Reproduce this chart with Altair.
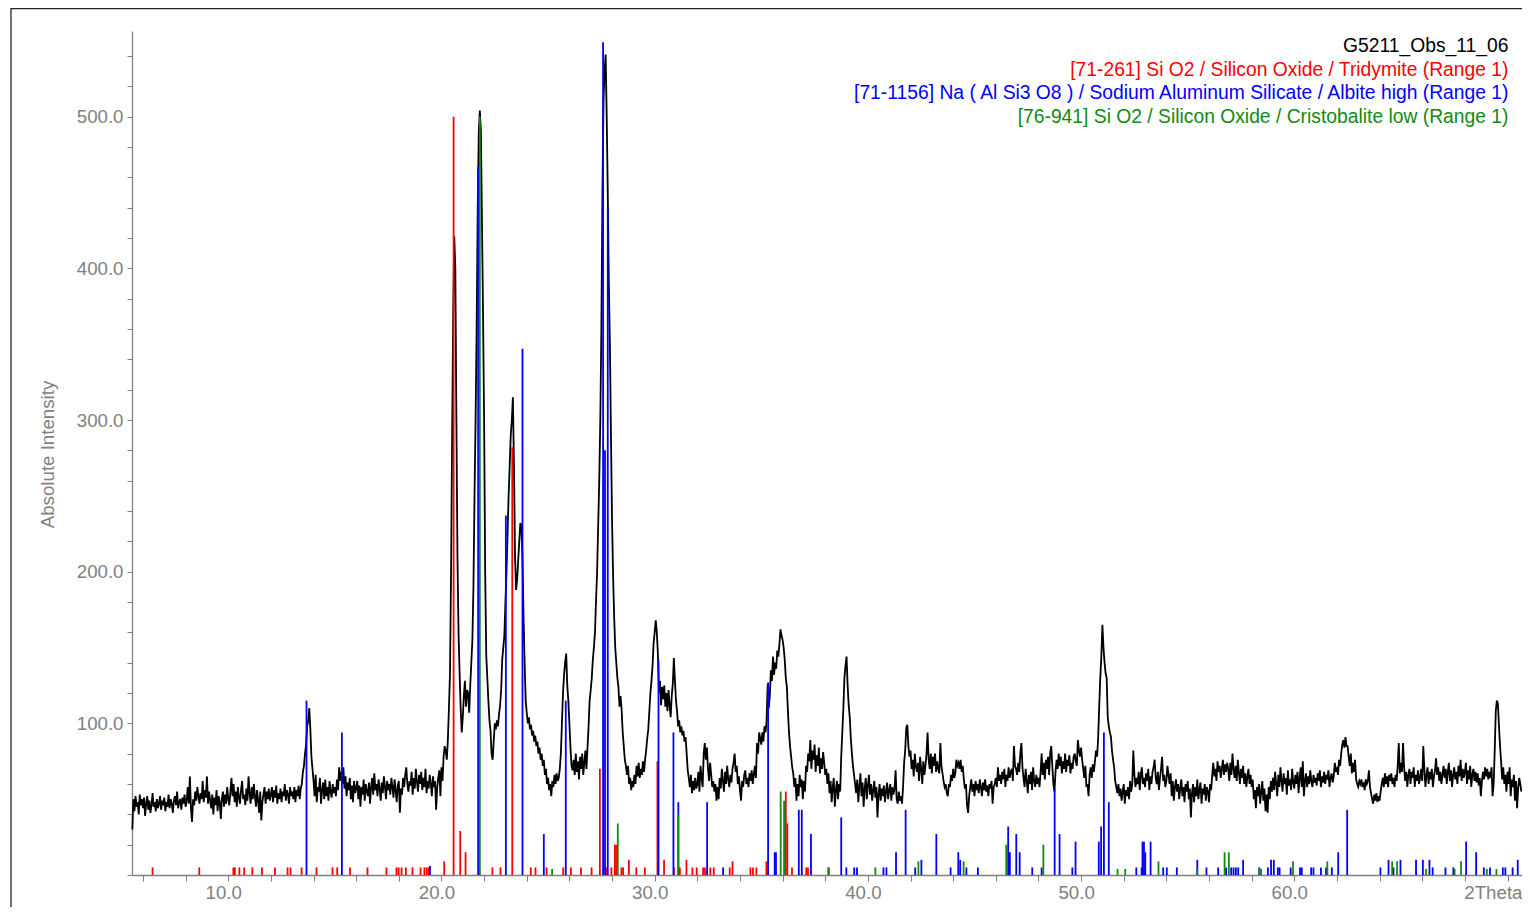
import altair as alt
import pandas as pd

# ---------------- observed pattern (counts sampled every 0.05 deg 2Theta) ----------------
STEP = 0.05
counts_05_10 = [
    30, 50, 42, 52, 45, 48, 40, 53, 46, 50,
    44, 51, 39, 47, 52, 43, 49, 41, 46, 54, 45, 48, 42, 50, 44, 47, 52, 43, 49, 46,
    51, 42, 48, 45, 53, 44, 50, 47, 41, 49, 52, 46, 55, 44, 48, 50, 43, 51, 47, 53,
    45, 49, 58, 47, 65, 44, 35, 50, 46, 55, 49, 58, 52, 47, 54, 50, 62, 48, 56, 51,
    65, 47, 55, 49, 44, 53, 40, 51, 46, 56, 42, 52, 48, 37, 50, 55, 45, 53, 47, 58,
]
counts_10_20 = [
    50, 46, 55, 64, 52, 60, 48, 55, 45, 58, 51, 47, 56, 62, 50, 53, 46, 57, 49, 65,
    54, 47, 58, 50, 60, 52, 45, 56, 49, 41, 55, 36, 48, 53, 58, 47, 55, 50, 57, 49,
    53, 58, 48, 56, 51, 59, 47, 54, 50, 57, 48, 55, 52, 60, 49, 56, 53, 47, 58, 52,
    55, 50, 58, 48, 56, 52, 59, 50, 57, 60, 68, 72, 80, 86, 98, 102, 110, 96, 78, 70,
    62, 52, 66, 48, 58, 55, 64, 47, 56, 61, 50, 63, 52, 58, 49, 62, 55, 51, 60, 54,
    58, 52, 63, 56, 71, 62, 68, 60, 71, 57, 65, 52, 61, 56, 64, 50, 59, 48, 62, 54,
    57, 62, 50, 59, 45, 58, 53, 63, 49, 60, 55, 52, 61, 47, 58, 64, 53, 67, 56, 60,
    52, 63, 57, 49, 61, 54, 65, 58, 50, 62, 56, 60, 53, 64, 58, 51, 63, 56, 48, 59,
    62, 41, 57, 53, 64, 58, 66, 71, 60, 55, 62, 59, 68, 53, 64, 57, 70, 61, 55, 66,
    60, 68, 56, 64, 58, 70, 54, 62, 57, 66, 60, 52, 65, 58, 62, 43, 58, 64, 69, 52,
]
counts_20_30 = [
    71, 62, 78, 85, 82, 76, 89, 110, 133, 200, 290, 370, 421, 400, 300, 210, 160, 133, 110, 94,
    104, 118, 128, 111, 122, 120, 107, 125, 140, 155, 190, 250, 300, 360, 440, 490, 504, 490, 430, 370,
    300, 200, 145, 130, 115, 102, 95, 80, 76, 88, 100, 96, 102, 98, 106, 112, 122, 142, 150, 158,
    180, 200, 225, 250, 270, 290, 300, 315, 270, 210, 188, 195, 208, 220, 232, 230, 208, 170, 140, 115,
    107, 100, 104, 96, 99, 92, 95, 88, 92, 85, 88, 80, 84, 76, 80, 72, 76, 66, 70, 60,
    64, 56, 60, 52, 62, 58, 66, 60, 67, 62, 64, 70, 80, 100, 120, 132, 140, 146, 125, 115,
    100, 84, 72, 69, 76, 66, 80, 68, 75, 63, 78, 70, 80, 66, 74, 82, 70, 84, 98, 115,
    122, 130, 142, 150, 160, 181, 200, 230, 260, 300, 360, 450, 510, 530, 541, 500, 450, 390, 350, 290,
    234, 197, 170, 150, 140, 130, 124, 111, 118, 109, 94, 85, 76, 72, 66, 72, 60, 64, 56, 62,
    58, 66, 60, 72, 65, 74, 64, 70, 66, 75, 68, 76, 82, 90, 96, 108, 120, 128, 138, 153,
]
counts_30_40 = [
    160, 168, 160, 146, 120, 128, 112, 124, 116, 125, 111, 120, 108, 122, 112, 104, 118, 126, 143, 128,
    115, 108, 98, 102, 94, 98, 92, 95, 88, 91, 80, 69, 64, 58, 66, 54, 62, 56, 64, 57,
    60, 68, 55, 72, 64, 58, 80, 87, 76, 84, 70, 62, 74, 66, 58, 62, 55, 60, 49, 58,
    50, 64, 57, 70, 62, 55, 68, 60, 72, 63, 58, 66, 61, 70, 74, 80, 68, 72, 60, 65,
    56, 49, 62, 58, 66, 69, 60, 64, 58, 67, 62, 69, 60, 66, 72, 64, 87, 80, 94, 90,
    86, 94, 88, 98, 94, 102, 126, 110, 118, 135, 128, 144, 132, 140, 136, 148, 144, 152, 162, 158,
    155, 150, 142, 130, 124, 108, 94, 85, 78, 71, 67, 58, 64, 49, 60, 52, 66, 58, 63, 50,
    62, 55, 72, 68, 80, 75, 89, 70, 82, 76, 86, 68, 79, 72, 84, 67, 77, 70, 81, 74,
    66, 70, 60, 67, 54, 62, 48, 58, 64, 45, 56, 62, 50, 60, 55, 78, 94, 110, 130, 138,
    144, 125, 112, 104, 90, 80, 72, 66, 60, 54, 63, 48, 58, 67, 52, 61, 45, 57, 64, 50,
]
counts_40_50 = [
    59, 66, 53, 60, 49, 56, 62, 51, 58, 38, 53, 60, 49, 57, 52, 59, 48, 55, 61, 50,
    56, 60, 49, 58, 53, 57, 69, 50, 47, 55, 49, 52, 47, 58, 74, 82, 97, 99, 85, 78,
    82, 70, 76, 65, 80, 72, 68, 74, 62, 78, 70, 60, 75, 66, 72, 80, 94, 76, 70, 80,
    67, 78, 72, 80, 68, 75, 70, 67, 87, 72, 67, 62, 58, 60, 54, 52, 60, 58, 66, 62,
    70, 64, 67, 76, 72, 74, 70, 76, 68, 72, 63, 57, 60, 46, 41, 52, 58, 63, 55, 60,
    52, 62, 56, 60, 54, 63, 58, 52, 61, 56, 63, 55, 59, 52, 60, 57, 62, 47, 58, 60,
    64, 58, 71, 62, 66, 60, 68, 63, 70, 58, 66, 62, 71, 64, 68, 70, 62, 85, 72, 70,
    66, 74, 68, 80, 87, 71, 64, 58, 70, 62, 54, 66, 60, 68, 56, 71, 62, 58, 66, 60,
    64, 58, 68, 80, 66, 74, 63, 76, 70, 78, 66, 80, 85, 72, 60, 55, 68, 76, 70, 80,
    72, 78, 67, 75, 70, 80, 68, 76, 72, 79, 67, 74, 70, 78, 80, 75, 72, 89, 82, 78,
]
counts_50_60 = [
    84, 76, 70, 64, 72, 58, 60, 52, 66, 71, 64, 73, 68, 75, 82, 78, 90, 111, 130, 144,
    165, 150, 140, 133, 130, 104, 98, 94, 91, 82, 76, 71, 62, 58, 54, 60, 52, 57, 49, 55,
    60, 47, 56, 52, 58, 50, 62, 55, 60, 82, 66, 58, 64, 60, 68, 56, 66, 71, 60, 64,
    58, 67, 62, 70, 56, 65, 60, 68, 71, 76, 64, 60, 68, 56, 64, 70, 78, 62, 66, 58,
    62, 72, 66, 60, 67, 52, 62, 49, 58, 63, 55, 60, 50, 57, 63, 52, 58, 48, 60, 55,
    62, 50, 57, 38, 54, 60, 48, 58, 52, 63, 50, 56, 61, 47, 57, 53, 60, 49, 58, 55,
    48, 60, 56, 66, 74, 65, 70, 62, 75, 68, 72, 64, 70, 76, 66, 73, 68, 74, 70, 62,
    74, 66, 80, 70, 64, 72, 62, 76, 68, 60, 70, 64, 72, 60, 67, 58, 65, 70, 60, 66,
    58, 63, 50, 56, 44, 58, 52, 60, 47, 55, 62, 49, 57, 42, 53, 41, 58, 50, 62, 55,
    64, 56, 68, 60, 52, 66, 58, 71, 62, 55, 67, 60, 64, 53, 69, 59, 63, 56, 70, 61,
]
counts_60_71 = [
    57, 66, 60, 68, 54, 64, 71, 58, 75, 52, 62, 67, 58, 65, 60, 69, 62, 58, 66, 61,
    64, 59, 67, 62, 69, 58, 65, 61, 68, 60, 66, 63, 69, 58, 64, 67, 61, 65, 74, 68,
    70, 66, 76, 72, 80, 86, 89, 84, 91, 85, 85, 78, 72, 80, 67, 74, 68, 76, 63, 60,
    58, 62, 60, 63, 58, 61, 56, 63, 60, 62, 69, 58, 54, 50, 47, 53, 49, 54, 48, 52,
    49, 55, 60, 64, 58, 67, 60, 65, 58, 66, 62, 67, 60, 64, 58, 66, 62, 72, 87, 67,
    74, 68, 87, 71, 62, 68, 58, 66, 70, 60, 68, 64, 71, 58, 66, 62, 69, 60, 64, 70,
    62, 85, 70, 58, 66, 71, 60, 68, 63, 70, 58, 65, 69, 77, 66, 71, 62, 68, 60, 66,
    72, 64, 70, 60, 68, 74, 62, 69, 58, 66, 71, 63, 68, 60, 72, 65, 76, 62, 70, 64,
    68, 74, 60, 69, 63, 72, 58, 66, 70, 62, 68, 61, 67, 59, 64, 52, 62, 68, 63, 71,
    65, 70, 63, 68, 64, 71, 52, 60, 82, 108, 115, 113, 98, 85, 75, 63, 71, 60, 66, 55,
    68, 60, 71, 52, 63, 58, 66, 49, 62, 44, 57, 64, 60, 55,
]

# ---------------- reference patterns (position 2Theta, intensity) ----------------
tridymite_sticks = [
    (6.45, 5), (8.64, 5), (10.24, 5), (10.31, 5), (10.52, 5), (10.75, 5), (11.13, 5),
    (11.58, 5), (12.19, 5), (12.78, 5), (12.92, 5), (13.44, 5), (14.14, 5), (14.89, 5),
    (15.11, 5), (15.71, 5), (16.53, 5), (17.42, 5), (17.89, 5), (17.99, 5), (18.13, 5),
    (18.33, 5), (18.64, 5), (19.02, 5), (19.20, 5), (19.31, 5), (19.40, 5), (20.13, 9),
    (20.57, 500), (20.88, 29), (21.13, 15), (22.39, 5), (22.77, 5), (23.32, 282),
    (24.19, 5), (24.41, 5), (24.93, 5), (25.71, 5), (26.07, 5), (26.54, 5), (27.04, 5),
    (27.43, 70), (27.74, 5), (27.97, 5), (28.13, 20), (28.19, 20), (28.44, 5), (28.52, 5),
    (28.79, 10), (29.14, 5), (29.54, 5), (30.13, 75), (30.44, 10), (30.90, 5), (31.18, 5),
    (31.49, 10), (31.77, 5), (31.97, 5), (32.27, 5), (32.36, 5), (32.61, 5), (32.77, 5),
    (33.52, 5), (33.65, 9), (34.49, 5), (34.61, 5), (34.77, 5), (35.24, 9), (36.15, 55),
    (36.22, 34), (36.44, 5), (37.11, 5), (37.19, 5),
]
albite_sticks = [
    (13.67, 115), (15.33, 94), (19.46, 6), (21.72, 467), (23.02, 237), (23.80, 347),
    (24.80, 27), (25.83, 115), (27.58, 549), (27.67, 280), (27.80, 440), (30.18, 142),
    (30.88, 94), (31.11, 48), (32.46, 48), (33.21, 5), (35.32, 127), (35.63, 15),
    (35.69, 15), (36.76, 43), (36.90, 43), (37.33, 27), (38.16, 5), (38.75, 38),
    (38.99, 5), (39.36, 5), (39.49, 5), (40.73, 5), (40.87, 5), (41.32, 15), (41.77, 43),
    (42.22, 5), (42.51, 10), (43.21, 27), (43.88, 5), (44.24, 15), (44.33, 10), (44.62, 5),
    (45.16, 5), (46.58, 32), (46.66, 15), (46.96, 27), (47.12, 15), (47.71, 5), (48.15, 5),
    (48.76, 57), (48.99, 27), (49.59, 5), (49.74, 22), (50.83, 22), (50.94, 32),
    (51.07, 94), (51.30, 48), (52.59, 5), (52.84, 5), (52.88, 22), (52.95, 22), (53.01, 15),
    (53.26, 22), (53.85, 5), (54.02, 5), (54.49, 5), (55.45, 10), (55.88, 5), (56.43, 5),
    (56.80, 5), (57.04, 5), (57.15, 5), (57.26, 5), (57.37, 5), (57.60, 10), (58.36, 5),
    (58.76, 5), (58.91, 10), (59.04, 10), (59.23, 5), (59.31, 5), (59.83, 5), (60.27, 5),
    (60.35, 5), (60.79, 5), (60.90, 5), (61.25, 5), (61.49, 5), (61.76, 5), (62.06, 15),
    (62.48, 43), (64.04, 5), (64.42, 10), (64.65, 5), (64.98, 10), (65.71, 10), (66.03, 10),
    (66.34, 10), (66.49, 5), (67.09, 5), (67.46, 5), (68.06, 22), (68.53, 15), (68.89, 5),
    (69.18, 5), (69.78, 5), (69.90, 5), (70.24, 5), (70.48, 10),
]
cristobalite_sticks = [
    (21.80, 500), (25.19, 4), (28.27, 34), (31.11, 40), (35.91, 55), (36.07, 49),
    (38.15, 5), (40.35, 5), (42.37, 9), (44.49, 9), (46.49, 20), (48.23, 20), (51.71, 4),
    (52.07, 4), (53.63, 9), (55.45, 4), (56.73, 15), (56.93, 15), (58.36, 4), (58.44, 4),
    (59.94, 9), (61.55, 9), (64.59, 9), (64.82, 9), (66.18, 4), (67.52, 4), (67.82, 9),
    (69.03, 4), (69.48, 4),
]

legend_labels = [
    "G5211_Obs_11_06",
    "[71-261] Si O2 / Silicon Oxide / Tridymite (Range 1)",
    "[71-1156] Na ( Al Si3 O8 ) / Sodium Aluminum Silicate / Albite high (Range 1)",
    "[76-941] Si O2 / Silicon Oxide / Cristobalite low (Range 1)",
]
legend_colors = ["#000000", "#FF0000", "#0000FF", "#128A12"]
phase_names = ["tridymite", "albite", "cristobalite"]

x_ticks = list(range(6, 71, 2))
y_ticks = list(range(0, 541, 20))

# ---------------- build tables ----------------
chunks = [(5.5, counts_05_10), (10.0, counts_10_20), (20.0, counts_20_30),
          (30.0, counts_30_40), (40.0, counts_40_50), (50.0, counts_50_60),
          (60.0, counts_60_71)]
rows = []
for start, vals in chunks:
    for i, v in enumerate(vals):
        rows.append({"two_theta": round(start + STEP * i, 3), "counts": v})
obs = pd.DataFrame(rows)

stick_rows = []
for name, lst in zip(phase_names, [tridymite_sticks, albite_sticks, cristobalite_sticks]):
    for p, h in lst:
        stick_rows.append({"two_theta": p, "counts": h, "base": 0, "phase": name})
sticks = pd.DataFrame(stick_rows)

legend_df = pd.DataFrame({"label": legend_labels, "row": list(range(4))})

FONT = "Liberation Sans"
GREY = "#808080"
W, H = 1390, 844
x_scale = alt.Scale(domain=[5.485, 70.68], nice=False, zero=False)
y_scale = alt.Scale(domain=[0, 556.5], nice=False, zero=True)

x_axis = alt.Axis(
    values=x_ticks, tickCount=200,
    labelExpr="datum.value % 10 == 0 && datum.value < 70 ? format(datum.value, '.1f') : ''",
    tickSize=6, tickColor=GREY, tickWidth=1, domainColor=GREY, domainWidth=1.3,
    labelColor=GREY, labelFont=FONT, labelFontSize=18.7, labelPadding=2, labelOffset=-5,
    labelOverlap=False, labelFlush=False, grid=False,
    title="2Theta", titleFont=FONT, titleFontSize=18.7, titleFontWeight="normal",
    titleColor=GREY, titleX=W, titleY=8, titleAlign="right", titleBaseline="top",
)
y_axis = alt.Axis(
    values=y_ticks, tickCount=200,
    labelExpr="datum.value % 100 == 0 && datum.value > 0 ? format(datum.value, '.1f') : ''",
    tickSize=5, tickColor=GREY, tickWidth=1, domainColor=GREY, domainWidth=1.3,
    labelColor=GREY, labelFont=FONT, labelFontSize=18.7, labelPadding=4,
    labelOverlap=False, grid=False,
    title="Absolute Intensity", titleFont=FONT, titleFontSize=18.7, titleFontWeight="normal",
    titleColor=GREY, titleX=-85, titleY=H / 2 + 1, titleAngle=270, titleAlign="center",
    titleBaseline="middle",
)

line = alt.Chart(obs).mark_line(color="black", strokeWidth=1.8).encode(
    x=alt.X("two_theta:Q", scale=x_scale, axis=x_axis),
    y=alt.Y("counts:Q", scale=y_scale, axis=y_axis),
)

stick_layer = alt.Chart(sticks).mark_rule(strokeWidth=1.8).encode(
    x=alt.X("two_theta:Q", scale=x_scale, axis=x_axis),
    y=alt.Y("counts:Q", scale=y_scale, axis=y_axis),
    y2="base:Q",
    color=alt.Color("phase:N", scale=alt.Scale(domain=phase_names,
                                               range=legend_colors[1:]), legend=None),
)

legend_y = [15, 38.5, 62, 85.5]
legend_layers = []
for k in range(4):
    legend_layers.append(
        alt.Chart(legend_df).transform_filter(alt.datum.row == k)
        .mark_text(align="right", baseline="middle", font=FONT, fontSize=19.3,
                   color=legend_colors[k])
        .encode(text="label:N", x=alt.value(W - 13.5), y=alt.value(legend_y[k]))
    )

frame_df = pd.DataFrame({"k": [0]})
frame_left = alt.Chart(frame_df).mark_rule(color="#222222", strokeWidth=1.3).encode(
    x=alt.value(-121), y=alt.value(-23), y2=alt.value(880))
frame_top = alt.Chart(frame_df).mark_rule(color="#222222", strokeWidth=1.3).encode(
    x=alt.value(-121), x2=alt.value(W + 10), y=alt.value(-22.3))

chart = alt.layer(line, stick_layer, *legend_layers, frame_left, frame_top).properties(
    width=W, height=H,
    padding={"left": 124, "top": 23, "right": 0, "bottom": 32},
    autosize="none",
    background="white",
).configure_view(stroke=None)

chart.save("out.html", embed_options={"renderer": "svg", "actions": False})
